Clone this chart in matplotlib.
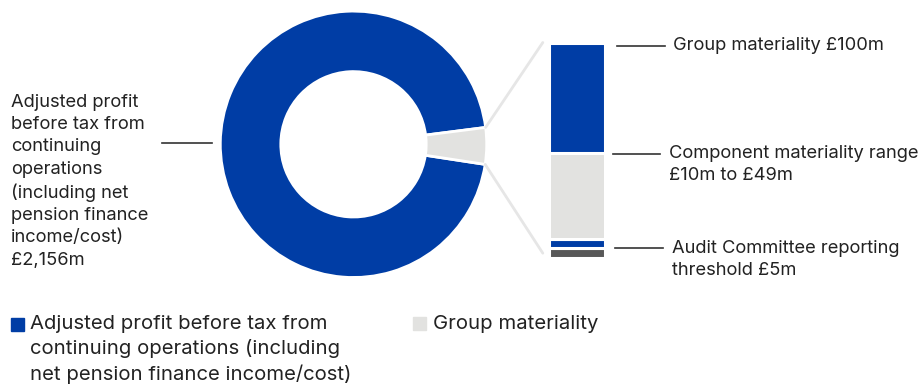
import matplotlib.pyplot as plt
import numpy as np
from matplotlib.patches import ConnectionPatch, Rectangle

plt.rcParams['font.family'] = ['Inter', 'DejaVu Sans']

BLUE = '#003da5'
LIGHT = '#e2e2e0'
DARK = '#585858'
LINE = '#333333'
CONN = '#e6e6e6'
TXT = '#222222'

# donut values (£m)
donut_labels = ['Adjusted profit before tax from continuing operations', 'Group materiality']
donut_values = [2156, 100]
donut_colors = [BLUE, LIGHT]

# stacked bar segments, bottom to top (schematic heights as drawn)
bar_names = ['Audit Committee threshold', 'Reporting', 'Component range', 'Group materiality']
bar_heights = [9.5, 9, 85, 108.5]
bar_colors = [DARK, BLUE, LIGHT, BLUE]

W, H = 923, 387
fig = plt.figure(figsize=(W / 100, H / 100), dpi=100)


def px_axes(x0, y0, x1, y1):
    return fig.add_axes([x0 / W, 1 - y1 / H, (x1 - x0) / W, (y1 - y0) / H])


# donut
cx, cy, R = 353.5, 144.3, 133.2
ax = px_axes(cx - R, cy - R, cx + R, cy + R)
half = donut_values[1] / sum(donut_values) * 360 / 2
ax.pie(donut_values, colors=donut_colors, startangle=half - 0.7, counterclock=True,
       radius=1, wedgeprops=dict(width=1 - 72.7 / R, edgecolor='white', linewidth=2))
ax.set_xlim(-1, 1)
ax.set_ylim(-1, 1)
ax.axis('off')

# stacked bar
bx = px_axes(548.5, 42.5, 605.5, 257.5)
bottom = 0
for h, c in zip(bar_heights, bar_colors):
    bx.bar(0, h, bottom=bottom, width=1, color=c, edgecolor='white', linewidth=2.2)
    bottom += h
bx.set_xlim(-0.5, 0.5)
bx.set_ylim(0, sum(bar_heights))
bx.axis('off')

# connector lines from grey slice to bar
a1 = np.deg2rad(half - 0.7)
a2 = np.deg2rad(-half - 0.7)
for a, yb in [(a1, 1.0), (a2, 0.02)]:
    con = ConnectionPatch(xyA=(np.cos(a), np.sin(a)), coordsA=ax.transData,
                          xyB=(-0.1, yb), coordsB=bx.transAxes,
                          color=CONN, linewidth=2)
    fig.add_artist(con)

# leader lines and labels
fs = 13.2


def hline(x0, x1, y):
    fig.add_artist(plt.Line2D([x0 / W, x1 / W], [1 - y / H, 1 - y / H], color=LINE, linewidth=1.2))


hline(162, 212, 143)
fig.text(11 / W, 1 - 94 / H,
         'Adjusted profit\nbefore tax from\ncontinuing\noperations\n(including net\npension finance\nincome/cost)\n£2,156m',
         fontsize=fs, va='top', ha='left', color=TXT, linespacing=1.40)

hline(617, 665, 46)
fig.text(673 / W, 1 - 46 / H, 'Group materiality £100m', fontsize=fs, va='center', color=TXT)

hline(613, 660, 154)
fig.text(669 / W, 1 - 145 / H, 'Component materiality range\n£10m to £49m', fontsize=fs,
         va='top', color=TXT, linespacing=1.42)

hline(615, 663, 248)
fig.text(672 / W, 1 - 240 / H, 'Audit Committee reporting\nthreshold £5m', fontsize=fs,
         va='top', color=TXT, linespacing=1.42)

# legend
fig.add_artist(Rectangle((11 / W, 1 - 331 / H), 13 / W, 13 / H, color=BLUE, transform=fig.transFigure))
fig.text(30 / W, 1 - 315 / H,
         'Adjusted profit before tax from\ncontinuing operations (including\nnet pension finance income/cost)',
         fontsize=14.6, va='top', color=TXT, linespacing=1.42)
fig.add_artist(Rectangle((413 / W, 1 - 330 / H), 13 / W, 13 / H, color=LIGHT, transform=fig.transFigure))
fig.text(433 / W, 1 - 315 / H, 'Group materiality', fontsize=14.6, va='top', color=TXT)

fig.savefig('out.png', dpi=100)
